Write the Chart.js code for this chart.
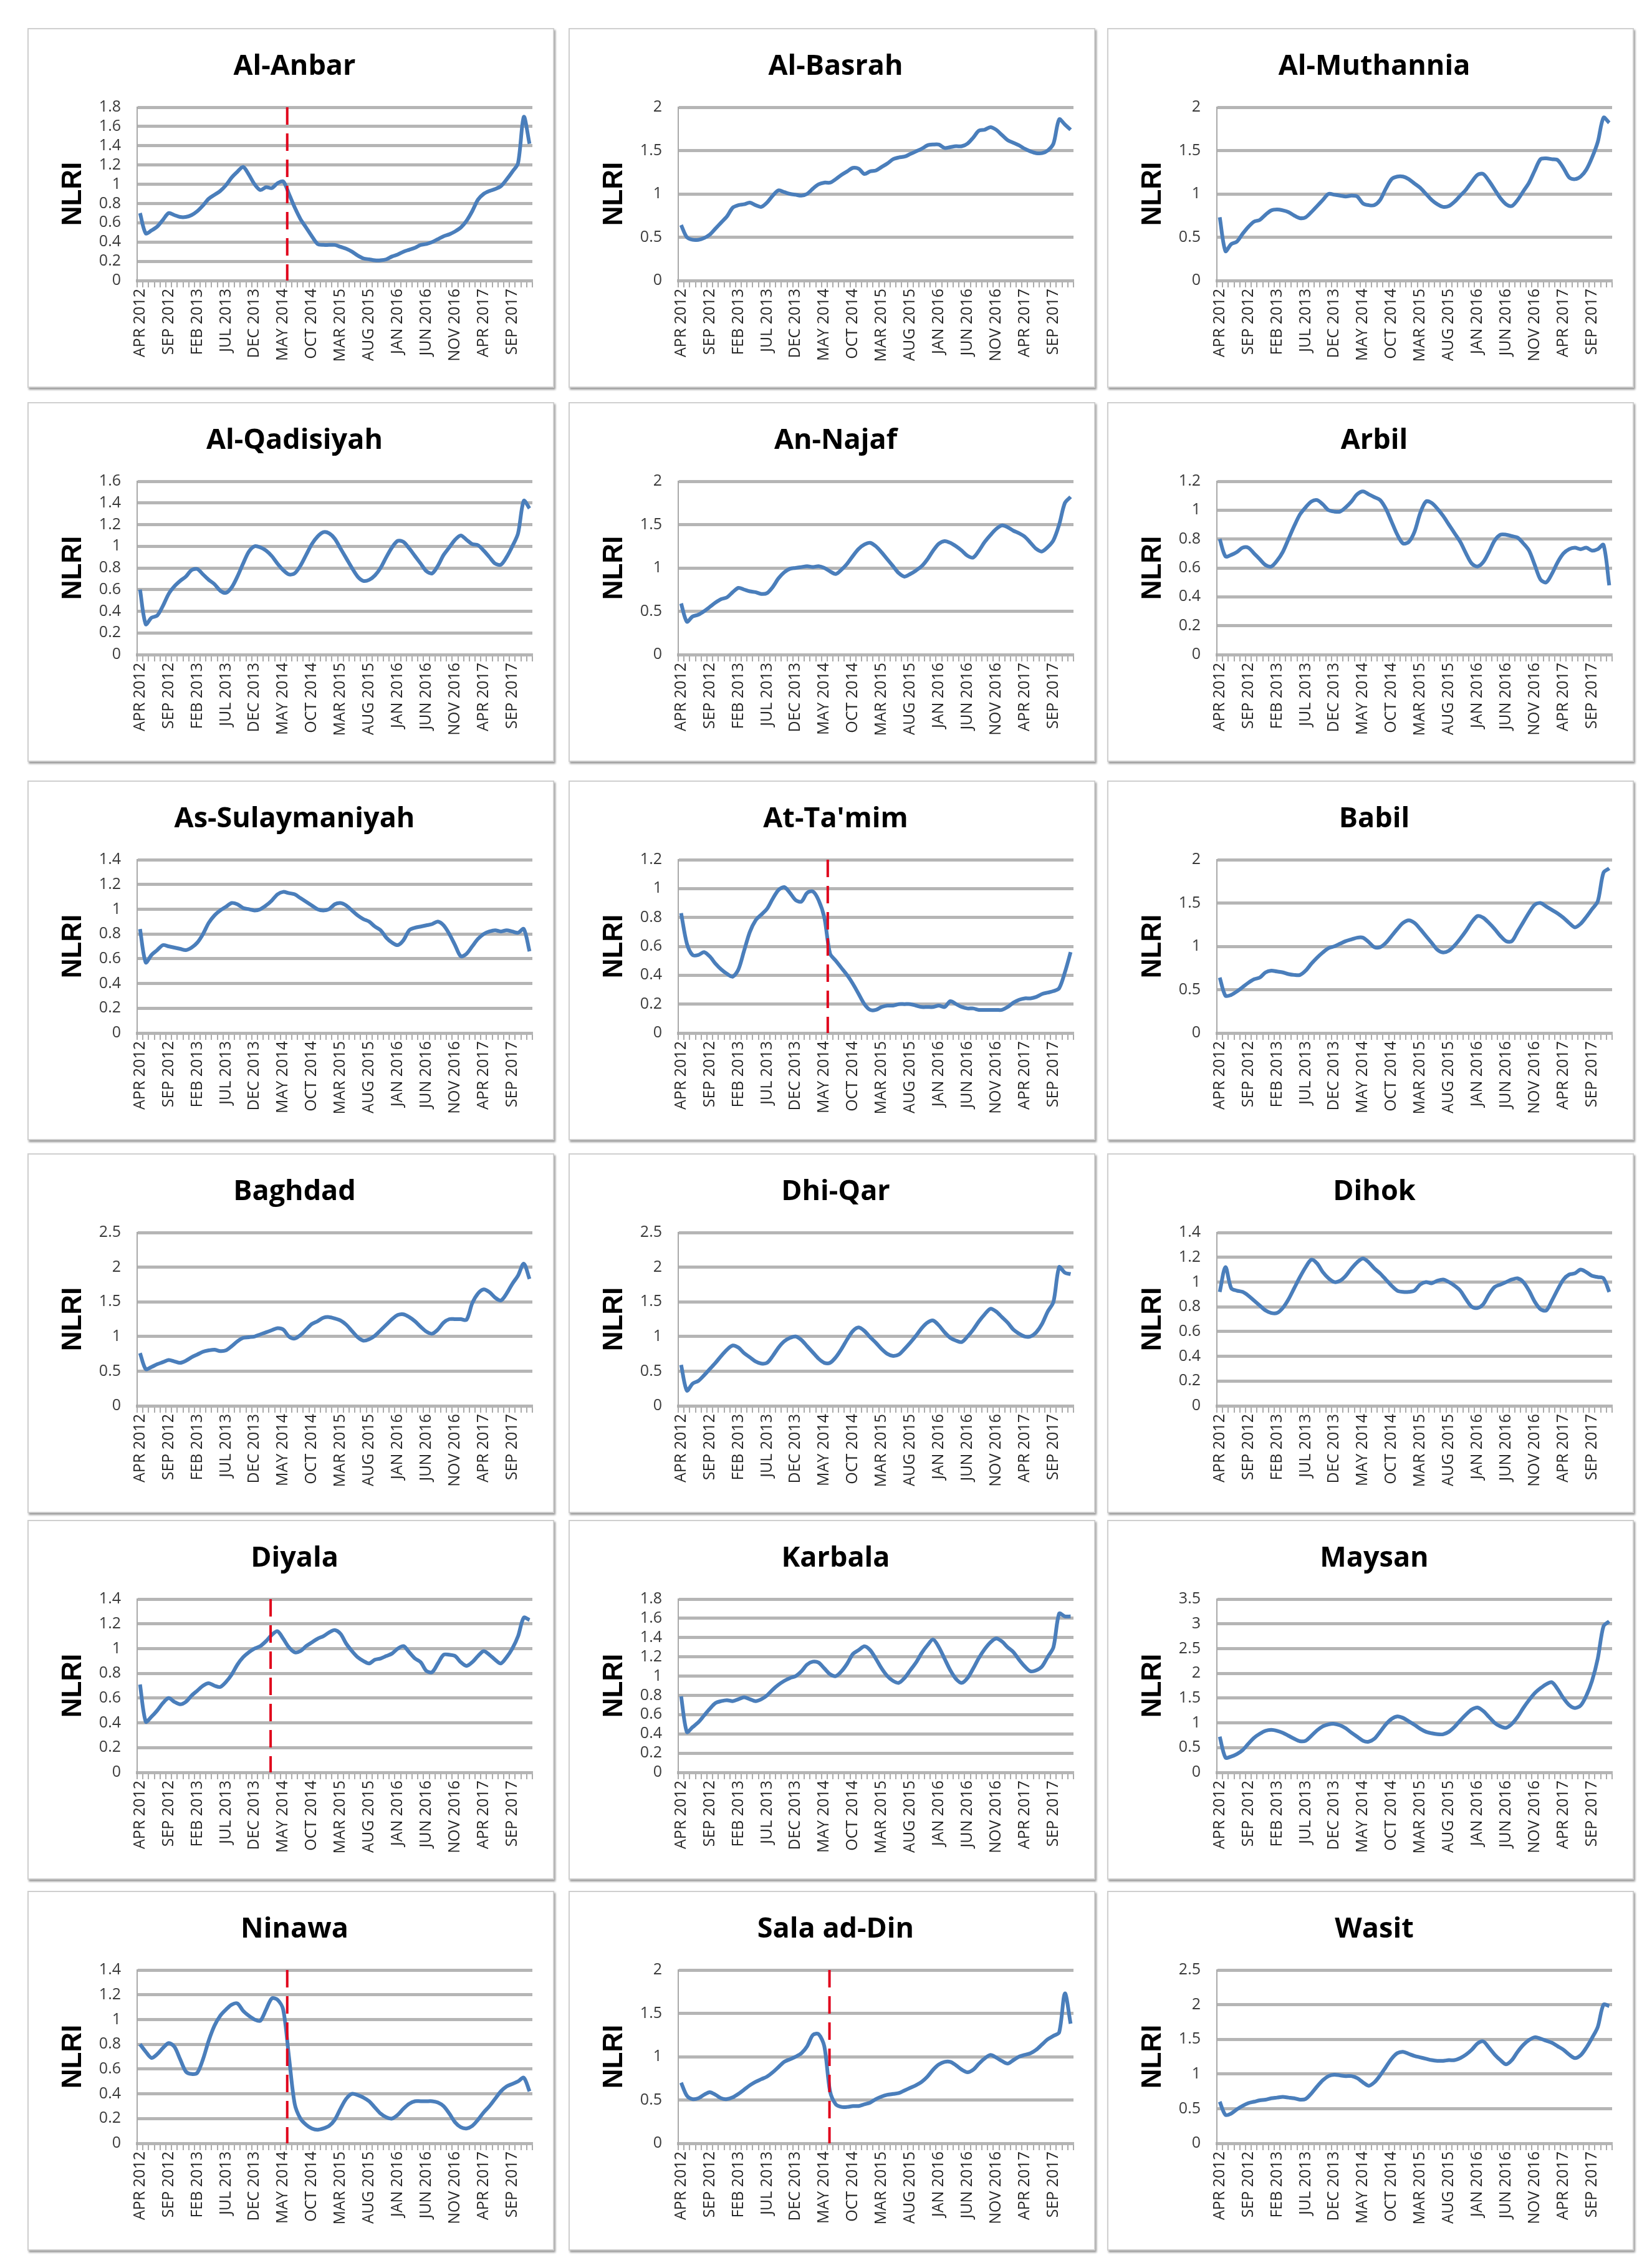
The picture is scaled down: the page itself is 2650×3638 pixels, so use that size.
<!DOCTYPE html>
<html>
<head>
<meta charset="utf-8">
<script src="https://cdn.jsdelivr.net/npm/chart.js@4.4.1/dist/chart.umd.min.js"></script>
<style>
  html, body { margin: 0; padding: 0; background: #fff; }
  body { width: 2650px; height: 3638px; position: relative; overflow: hidden; }
  .box { position: absolute; width: 845px; height: 577px; box-sizing: border-box;
         border: 2px solid #cfcfcf; box-shadow: 2px 3px 3px rgba(0,0,0,0.4); background: #fff; }
  .box canvas { position: absolute; left: 0; top: 0; }
</style>
</head>
<body>
<script>
// monthly categories, Apr 2012 .. Dec 2017
const months = [
  "APR 2012","MAY 2012","JUN 2012","JUL 2012","AUG 2012","SEP 2012","OCT 2012","NOV 2012","DEC 2012",
  "JAN 2013","FEB 2013","MAR 2013","APR 2013","MAY 2013","JUN 2013","JUL 2013","AUG 2013","SEP 2013","OCT 2013","NOV 2013","DEC 2013",
  "JAN 2014","FEB 2014","MAR 2014","APR 2014","MAY 2014","JUN 2014","JUL 2014","AUG 2014","SEP 2014","OCT 2014","NOV 2014","DEC 2014",
  "JAN 2015","FEB 2015","MAR 2015","APR 2015","MAY 2015","JUN 2015","JUL 2015","AUG 2015","SEP 2015","OCT 2015","NOV 2015","DEC 2015",
  "JAN 2016","FEB 2016","MAR 2016","APR 2016","MAY 2016","JUN 2016","JUL 2016","AUG 2016","SEP 2016","OCT 2016","NOV 2016","DEC 2016",
  "JAN 2017","FEB 2017","MAR 2017","APR 2017","MAY 2017","JUN 2017","JUL 2017","AUG 2017","SEP 2017","OCT 2017","NOV 2017","DEC 2017"
];

const alAnbar = [0.70,0.49,0.52,0.56,0.63,0.70,0.68,0.66,0.66,0.68,
  0.72,0.78,0.85,0.89,0.93,0.99,1.07,1.13,1.18,1.10,
  1.00,0.94,0.97,0.96,1.01,1.03,0.90,0.76,0.64,0.55,
  0.46,0.38,0.37,0.37,0.37,0.35,0.33,0.30,0.26,0.23,
  0.22,0.21,0.21,0.22,0.25,0.27,0.30,0.32,0.34,0.37,
  0.38,0.40,0.43,0.46,0.48,0.51,0.55,0.62,0.72,0.84,
  0.90,0.93,0.95,0.98,1.05,1.13,1.22,1.70,1.42];
const alBasrah = [0.64,0.50,0.47,0.47,0.49,0.53,0.60,0.67,0.74,0.84,
  0.87,0.88,0.90,0.87,0.85,0.90,0.98,1.04,1.02,1.00,
  0.99,0.98,1.00,1.06,1.11,1.13,1.13,1.17,1.22,1.26,
  1.30,1.29,1.23,1.26,1.27,1.31,1.35,1.40,1.42,1.43,
  1.46,1.49,1.52,1.56,1.57,1.57,1.53,1.54,1.55,1.55,
  1.58,1.65,1.73,1.74,1.77,1.74,1.68,1.62,1.59,1.56,
  1.52,1.49,1.47,1.47,1.50,1.58,1.86,1.80,1.74];
const alMuthannia = [0.73,0.34,0.42,0.45,0.54,0.62,0.68,0.70,0.76,0.81,
  0.82,0.81,0.79,0.75,0.72,0.73,0.79,0.86,0.93,1.00,
  0.99,0.98,0.97,0.98,0.97,0.89,0.87,0.87,0.93,1.06,
  1.17,1.20,1.20,1.17,1.12,1.07,1.00,0.93,0.88,0.85,
  0.86,0.91,0.98,1.05,1.14,1.22,1.23,1.15,1.05,0.95,
  0.88,0.86,0.93,1.03,1.13,1.27,1.40,1.41,1.40,1.39,
  1.30,1.19,1.17,1.20,1.28,1.42,1.60,1.88,1.82];
const alQadisiyah = [0.60,0.28,0.34,0.36,0.45,0.56,0.63,0.68,0.72,0.78,
  0.79,0.74,0.69,0.65,0.59,0.57,0.62,0.72,0.84,0.95,
  1.00,0.99,0.96,0.91,0.84,0.78,0.74,0.75,0.82,0.92,
  1.02,1.09,1.13,1.12,1.07,0.98,0.89,0.80,0.72,0.68,
  0.69,0.73,0.80,0.90,0.99,1.05,1.04,0.98,0.91,0.84,
  0.77,0.75,0.82,0.92,0.99,1.06,1.10,1.06,1.02,1.01,
  0.96,0.90,0.84,0.83,0.90,1.00,1.12,1.42,1.35];
const anNajaf = [0.59,0.38,0.44,0.46,0.50,0.55,0.60,0.64,0.66,0.72,
  0.77,0.75,0.73,0.72,0.70,0.71,0.78,0.88,0.95,0.99,
  1.00,1.01,1.02,1.01,1.02,1.00,0.96,0.93,0.98,1.05,
  1.14,1.22,1.27,1.29,1.25,1.18,1.10,1.02,0.94,0.90,
  0.93,0.97,1.02,1.10,1.20,1.28,1.31,1.29,1.25,1.20,
  1.14,1.12,1.20,1.30,1.38,1.45,1.49,1.47,1.43,1.40,
  1.36,1.29,1.22,1.19,1.24,1.32,1.50,1.75,1.82];
const arbil = [0.80,0.68,0.69,0.71,0.74,0.74,0.70,0.66,0.62,0.61,
  0.65,0.71,0.80,0.89,0.97,1.02,1.06,1.07,1.04,1.00,
  0.99,0.99,1.02,1.06,1.11,1.13,1.11,1.09,1.07,1.01,
  0.92,0.83,0.77,0.78,0.85,0.98,1.06,1.05,1.01,0.96,
  0.90,0.84,0.78,0.70,0.63,0.61,0.64,0.71,0.79,0.83,
  0.83,0.82,0.81,0.77,0.72,0.62,0.52,0.50,0.56,0.64,
  0.70,0.73,0.74,0.73,0.74,0.72,0.73,0.76,0.48];
const asSulaymaniyah = [0.84,0.57,0.63,0.67,0.71,0.70,0.69,0.68,0.67,0.69,
  0.73,0.80,0.89,0.95,0.99,1.02,1.05,1.04,1.01,1.00,
  0.99,1.00,1.03,1.07,1.12,1.14,1.13,1.12,1.09,1.06,
  1.03,1.00,0.99,1.00,1.04,1.05,1.03,0.99,0.95,0.92,
  0.90,0.86,0.83,0.77,0.73,0.71,0.75,0.83,0.85,0.86,
  0.87,0.88,0.90,0.87,0.80,0.71,0.62,0.64,0.70,0.76,
  0.80,0.82,0.83,0.82,0.83,0.82,0.81,0.84,0.66];
const atTamim = [0.83,0.62,0.54,0.54,0.56,0.53,0.48,0.44,0.41,0.39,
  0.44,0.57,0.70,0.78,0.82,0.86,0.93,0.99,1.01,0.97,
  0.92,0.91,0.97,0.98,0.92,0.80,0.55,0.50,0.45,0.40,
  0.34,0.27,0.20,0.16,0.16,0.18,0.19,0.19,0.20,0.20,
  0.20,0.19,0.18,0.18,0.18,0.19,0.18,0.22,0.20,0.18,
  0.17,0.17,0.16,0.16,0.16,0.16,0.16,0.18,0.21,0.23,
  0.24,0.24,0.25,0.27,0.28,0.29,0.31,0.42,0.56];
const babil = [0.64,0.43,0.44,0.48,0.53,0.58,0.62,0.64,0.70,0.72,
  0.71,0.70,0.68,0.67,0.67,0.72,0.80,0.87,0.93,0.98,
  1.00,1.03,1.06,1.08,1.10,1.10,1.05,0.99,0.99,1.04,
  1.12,1.20,1.27,1.30,1.27,1.20,1.12,1.04,0.96,0.93,
  0.95,1.01,1.09,1.18,1.28,1.35,1.33,1.27,1.20,1.12,
  1.06,1.06,1.17,1.28,1.39,1.48,1.50,1.46,1.42,1.38,
  1.33,1.27,1.22,1.26,1.34,1.43,1.52,1.85,1.90];
const baghdad = [0.76,0.53,0.56,0.60,0.63,0.66,0.64,0.62,0.65,0.70,
  0.74,0.78,0.80,0.81,0.79,0.80,0.86,0.93,0.98,0.99,
  1.00,1.03,1.06,1.09,1.12,1.10,1.00,0.97,1.02,1.10,
  1.18,1.22,1.27,1.28,1.26,1.23,1.17,1.08,0.99,0.94,
  0.96,1.01,1.09,1.17,1.25,1.31,1.32,1.28,1.22,1.14,
  1.07,1.04,1.10,1.20,1.25,1.25,1.25,1.24,1.48,1.62,
  1.68,1.64,1.56,1.52,1.62,1.76,1.88,2.05,1.83];
const dhiQar = [0.59,0.22,0.32,0.36,0.44,0.53,0.62,0.72,0.81,0.87,
  0.84,0.76,0.70,0.64,0.61,0.62,0.72,0.84,0.93,0.98,
  1.00,0.95,0.86,0.77,0.68,0.62,0.62,0.70,0.82,0.96,
  1.08,1.13,1.08,0.99,0.91,0.82,0.75,0.72,0.74,0.82,
  0.91,1.01,1.12,1.20,1.23,1.16,1.06,0.98,0.94,0.92,
  1.00,1.10,1.22,1.32,1.40,1.36,1.28,1.20,1.10,1.04,
  1.00,1.00,1.06,1.18,1.36,1.50,2.00,1.92,1.90];
const dihok = [0.92,1.12,0.95,0.93,0.92,0.89,0.85,0.81,0.77,0.75,
  0.75,0.79,0.86,0.95,1.04,1.12,1.18,1.15,1.08,1.03,
  1.00,1.01,1.05,1.11,1.16,1.19,1.16,1.11,1.07,1.02,
  0.97,0.93,0.92,0.92,0.93,0.98,1.00,0.99,1.01,1.02,
  1.00,0.97,0.93,0.86,0.80,0.79,0.82,0.90,0.96,0.98,
  1.00,1.02,1.03,1.00,0.93,0.84,0.78,0.77,0.85,0.94,
  1.02,1.06,1.07,1.10,1.08,1.05,1.04,1.03,0.92];
const diyala = [0.71,0.41,0.45,0.50,0.56,0.60,0.57,0.55,0.57,0.62,
  0.66,0.70,0.72,0.70,0.69,0.73,0.79,0.87,0.93,0.97,
  1.00,1.02,1.06,1.11,1.14,1.08,1.01,0.97,0.98,1.02,
  1.05,1.08,1.10,1.13,1.15,1.12,1.04,0.98,0.93,0.90,
  0.88,0.91,0.92,0.94,0.96,1.00,1.02,0.97,0.92,0.89,
  0.82,0.81,0.88,0.95,0.95,0.94,0.89,0.86,0.89,0.94,
  0.98,0.95,0.91,0.88,0.93,1.00,1.10,1.25,1.23];
const karbala = [0.79,0.42,0.47,0.52,0.59,0.66,0.72,0.74,0.75,0.74,
  0.76,0.78,0.76,0.74,0.76,0.80,0.86,0.91,0.95,0.98,
  1.00,1.05,1.12,1.15,1.14,1.08,1.02,1.00,1.05,1.13,
  1.23,1.27,1.31,1.27,1.18,1.08,1.00,0.95,0.93,0.98,
  1.06,1.14,1.24,1.32,1.38,1.30,1.18,1.06,0.97,0.93,
  0.98,1.08,1.19,1.28,1.35,1.39,1.36,1.30,1.25,1.17,
  1.10,1.05,1.06,1.10,1.20,1.30,1.65,1.62,1.62];
const maysan = [0.72,0.30,0.32,0.37,0.45,0.58,0.70,0.78,0.84,0.86,
  0.84,0.80,0.74,0.68,0.63,0.64,0.74,0.85,0.93,0.97,
  0.98,0.95,0.89,0.80,0.72,0.64,0.62,0.68,0.82,0.97,
  1.08,1.13,1.10,1.03,0.96,0.88,0.82,0.79,0.77,0.77,
  0.82,0.92,1.05,1.17,1.27,1.31,1.24,1.12,1.00,0.93,
  0.90,0.98,1.12,1.30,1.46,1.60,1.70,1.78,1.82,1.68,
  1.50,1.36,1.30,1.35,1.55,1.85,2.30,2.95,3.05];
const ninawa = [0.80,0.74,0.69,0.72,0.77,0.81,0.78,0.68,0.58,0.56,
  0.57,0.68,0.83,0.95,1.03,1.08,1.12,1.13,1.07,1.03,
  1.00,0.99,1.08,1.17,1.16,1.08,0.70,0.32,0.20,0.15,
  0.12,0.11,0.12,0.14,0.19,0.28,0.36,0.40,0.39,0.37,
  0.34,0.29,0.24,0.21,0.20,0.23,0.28,0.32,0.34,0.34,
  0.34,0.34,0.33,0.30,0.24,0.17,0.13,0.12,0.14,0.19,
  0.25,0.30,0.36,0.42,0.46,0.48,0.50,0.53,0.42];
const salaAdDin = [0.70,0.55,0.51,0.52,0.56,0.59,0.56,0.52,0.51,0.53,
  0.57,0.62,0.67,0.71,0.74,0.77,0.82,0.88,0.94,0.97,
  1.00,1.04,1.12,1.25,1.26,1.12,0.60,0.45,0.42,0.42,
  0.43,0.43,0.45,0.47,0.51,0.54,0.56,0.57,0.58,0.61,
  0.64,0.67,0.71,0.77,0.85,0.91,0.94,0.94,0.90,0.85,
  0.82,0.85,0.92,0.98,1.02,0.99,0.95,0.92,0.96,1.00,
  1.02,1.04,1.08,1.14,1.20,1.24,1.28,1.73,1.38];
const wasit = [0.60,0.41,0.43,0.49,0.54,0.58,0.60,0.62,0.63,0.65,
  0.66,0.67,0.66,0.65,0.63,0.64,0.72,0.82,0.91,0.97,
  0.99,0.98,0.97,0.97,0.94,0.88,0.83,0.88,0.98,1.10,
  1.22,1.30,1.32,1.29,1.26,1.24,1.22,1.20,1.19,1.19,
  1.20,1.20,1.23,1.28,1.35,1.44,1.47,1.38,1.28,1.20,
  1.14,1.20,1.32,1.42,1.49,1.53,1.51,1.48,1.45,1.40,
  1.35,1.28,1.23,1.27,1.38,1.52,1.68,2.00,1.98];

const titles = ["Al-Anbar","Al-Basrah","Al-Muthannia","Al-Qadisiyah","An-Najaf","Arbil",
  "As-Sulaymaniyah","At-Ta'mim","Babil","Baghdad","Dhi-Qar","Dihok",
  "Diyala","Karbala","Maysan","Ninawa","Sala ad-Din","Wasit"];
const series = [alAnbar, alBasrah, alMuthannia, alQadisiyah, anNajaf, arbil,
  asSulaymaniyah, atTamim, babil, baghdad, dhiQar, dihok,
  diyala, karbala, maysan, ninawa, salaAdDin, wasit];
const yMax  = [1.8, 2, 2, 1.6, 2, 1.2, 1.4, 1.2, 2, 2.5, 2.5, 1.4, 1.4, 1.8, 3.5, 1.4, 2, 2.5];
const yStep = [0.2, 0.5, 0.5, 0.2, 0.5, 0.2, 0.2, 0.2, 0.5, 0.5, 0.5, 0.2, 0.2, 0.2, 0.5, 0.2, 0.5, 0.5];
// month index (fractional) of the red dashed marker, null = none
const breakAt = [25.7, null, null, null, null, null, null, 25.6, null, null, null, null,
  22.8, null, null, 25.7, 25.9, null];

const colLeft = [44, 912, 1776];
const rowTop = [45, 645, 1252, 1850, 2438, 3033];
const W = 841, H = 573;

const redLine = {
  id: "redLine",
  afterDatasetsDraw(chart, args, opts) {
    if (opts.at == null) return;
    const x = chart.scales.x.getPixelForValue(opts.at);
    const { top, bottom } = chart.chartArea;
    const ctx = chart.ctx;
    ctx.save();
    ctx.strokeStyle = "#e0001b";
    ctx.lineWidth = 4;
    ctx.setLineDash([28, 14]);
    ctx.beginPath();
    ctx.moveTo(x, top);
    ctx.lineTo(x, bottom);
    ctx.stroke();
    ctx.restore();
  }
};

const makeChart = (i) => {
  const box = document.createElement("div");
  box.className = "box";
  box.style.left = colLeft[i % 3] + "px";
  box.style.top = rowTop[Math.floor(i / 3)] + "px";
  const canvas = document.createElement("canvas");
  canvas.width = W;
  canvas.height = H;
  box.appendChild(canvas);
  document.body.appendChild(box);

  new Chart(canvas.getContext("2d"), {
    type: "line",
    data: {
      labels: months,
      datasets: [{
        data: series[i],
        borderColor: "#4a7ebb",
        borderWidth: 6,
        pointRadius: 0,
        tension: 0.3,
        fill: false
      }]
    },
    options: {
      responsive: false,
      animation: false,
      devicePixelRatio: 1,
      layout: { padding: { left: 45, right: 33, top: 0, bottom: 20 } },
      plugins: {
        legend: { display: false },
        tooltip: { enabled: false },
        title: {
          display: true,
          text: titles[i],
          color: "#000",
          font: { family: "Open Sans", weight: "bold", size: 45 },
          padding: { top: 33, bottom: 38 }
        },
        redLine: { at: breakAt[i] }
      },
      scales: {
        x: {
          type: "category",
          offset: true,
          grid: { offset: true, drawOnChartArea: false, drawTicks: true, tickLength: 11,
                  color: "#ababab", lineWidth: 2 },
          border: { display: true, color: "#b5b5b5", width: 5 },
          ticks: {
            autoSkip: false, maxRotation: 90, minRotation: 90, padding: 2,
            color: "#262626",
            font: { family: "Open Sans", size: 25 },
            callback: function (value, index) {
              return index % 5 === 0 ? this.getLabelForValue(value) : "";
            }
          },
          afterFit: (s) => { s.height = H - 20 - 403; }
        },
        y: {
          min: 0,
          max: yMax[i],
          grid: { color: "#b5b5b5", lineWidth: 5, drawTicks: false },
          border: { display: true, color: "#a9a9a9", width: 2 },
          ticks: {
            autoSkip: false,
            stepSize: yStep[i], padding: 26, color: "#3a3a3a",
            font: { family: "Open Sans", size: 25 },
            callback: (v) => String(Math.round(v * 10) / 10)
          },
          title: {
            display: true, text: "NLRI", color: "#000", padding: 0,
            font: { family: "Liberation Sans", weight: "bold", size: 44 }
          },
          afterFit: (s) => { s.width = 174 - 45; }
        }
      }
    },
    plugins: [redLine]
  });
};

const drawAll = () => {
  for (let i = 0; i < titles.length; i++) makeChart(i);
};

Promise.all([
  document.fonts.load('bold 45px "Open Sans"'),
  document.fonts.load('25px "Open Sans"'),
  document.fonts.load('bold 44px "Liberation Sans"')
]).then(drawAll, drawAll);
</script>
</body>
</html>
